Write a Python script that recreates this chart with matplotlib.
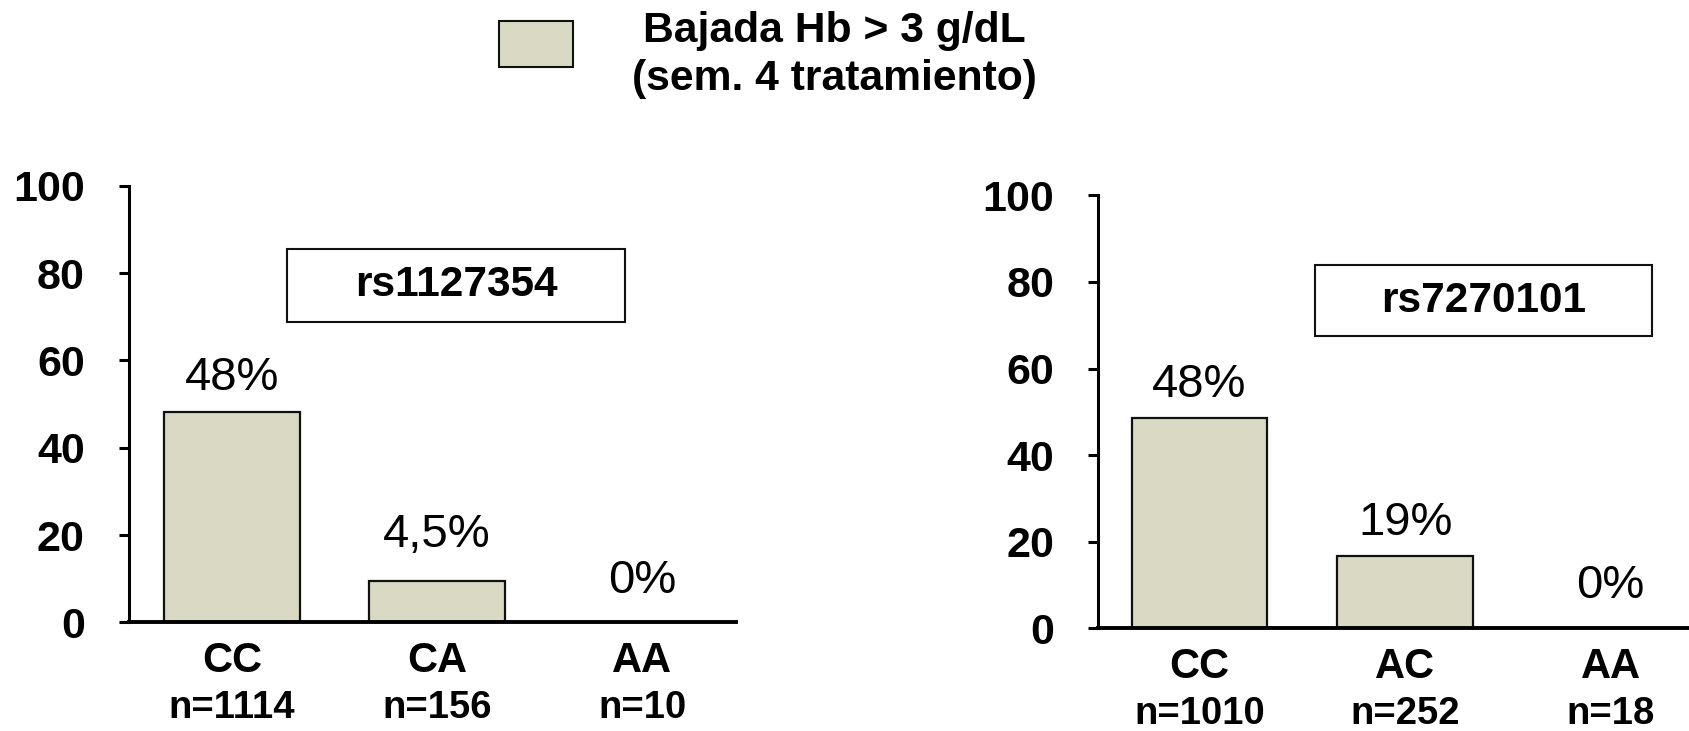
import matplotlib
matplotlib.use("Agg")
import matplotlib.pyplot as plt
from matplotlib.patches import Rectangle

plt.rcParams['font.family'] = ['Liberation Sans', 'DejaVu Sans']

# ---- data ----
legend_line1 = "Bajada Hb > 3 g/dL"
legend_line2 = "(sem. 4 tratamiento)"

snp_left = "rs1127354"
genotypes_left = ["CC", "CA", "AA"]
n_left = ["n=1114", "n=156", "n=10"]
values_left = [48.2, 9.5, 0]
pct_left = ["48%", "4,5%", "0%"]

snp_right = "rs7270101"
genotypes_right = ["CC", "AC", "AA"]
n_right = ["n=1010", "n=252", "n=18"]
values_right = [48.5, 16.7, 0]
pct_right = ["48%", "19%", "0%"]

yticks = [0, 20, 40, 60, 80, 100]

# ---- style ----
BAR_COLOR = "#D9D9C4"
EDGE = "#111111"

fig = plt.figure(figsize=(16.9, 7.31), dpi=100)


def draw_panel(rect, xlim, genos, ns, vals, pcts, pct_offsets, snp, box_x, box_y):
    ax = fig.add_axes(rect)
    x = list(range(len(vals)))
    ax.bar(x, vals, width=0.66, color=BAR_COLOR, edgecolor=EDGE, linewidth=1.6, zorder=2)
    ax.set_xlim(*xlim)
    ax.set_ylim(0, 100)
    for s in ["top", "right"]:
        ax.spines[s].set_visible(False)
    ax.spines["left"].set_linewidth(2.2)
    ax.spines["bottom"].set_linewidth(2.8)
    ax.spines["bottom"].set_zorder(3)
    ax.set_xticks([])
    ax.set_yticks(yticks)
    ax.set_yticklabels([str(t) for t in yticks], fontsize=31, fontweight="bold")
    ax.tick_params(axis="y", length=7.5, width=2.2, pad=24)
    ax.patch.set_visible(False)

    for xi, v, p, off in zip(x, vals, pcts, pct_offsets):
        ax.annotate(p, (xi, v), xytext=(0, off), textcoords="offset pixels",
                    ha="center", va="center", fontsize=34)
    for xi, g, n in zip(x, genos, ns):
        ax.annotate(g, (xi, 0), xytext=(0, -39), textcoords="offset pixels",
                    ha="center", va="center", fontsize=30, fontweight="bold",
                    annotation_clip=False)
        ax.annotate(n, (xi, 0), xytext=(0, -86), textcoords="offset pixels",
                    ha="center", va="center", fontsize=27.5, fontweight="bold",
                    annotation_clip=False)

    ax.add_patch(Rectangle((box_x[0], box_y[0]), box_x[1] - box_x[0], box_y[1] - box_y[0],
                           facecolor="white", edgecolor=EDGE, linewidth=1.5, zorder=4,
                           clip_on=False))
    ax.text((box_x[0] + box_x[1]) / 2, (box_y[0] + box_y[1]) / 2, snp,
            ha="center", va="center", fontsize=30.5, fontweight="bold", zorder=5)
    return ax


draw_panel([0.07604, 0.14856, 0.3595, 0.5974], (-0.503, 2.456),
           genotypes_left, n_left, values_left, pct_left, [34, 46, 41],
           snp_left, (0.271, 1.916), (68.9, 85.4))

draw_panel([0.6497, 0.14049, 0.3503, 0.5923], (-0.494, 2.386),
           genotypes_right, n_right, values_right, pct_right, [33, 33, 42],
           snp_right, (0.562, 2.201), (67.5, 83.9))

# legend
W, H = 1690, 731
fig.patches.append(Rectangle((499 / W, 1 - 66.8 / H), 74 / W, 46.3 / H,
                             transform=fig.transFigure, facecolor=BAR_COLOR,
                             edgecolor=EDGE, linewidth=1.5))
fig.text(834 / W, 1 - 31 / H, legend_line1, ha="center", va="center",
         fontsize=30.7, fontweight="bold")
fig.text(834 / W, 1 - 79 / H, legend_line2, ha="center", va="center",
         fontsize=30.7, fontweight="bold")

fig.savefig("out.png", dpi=100)
